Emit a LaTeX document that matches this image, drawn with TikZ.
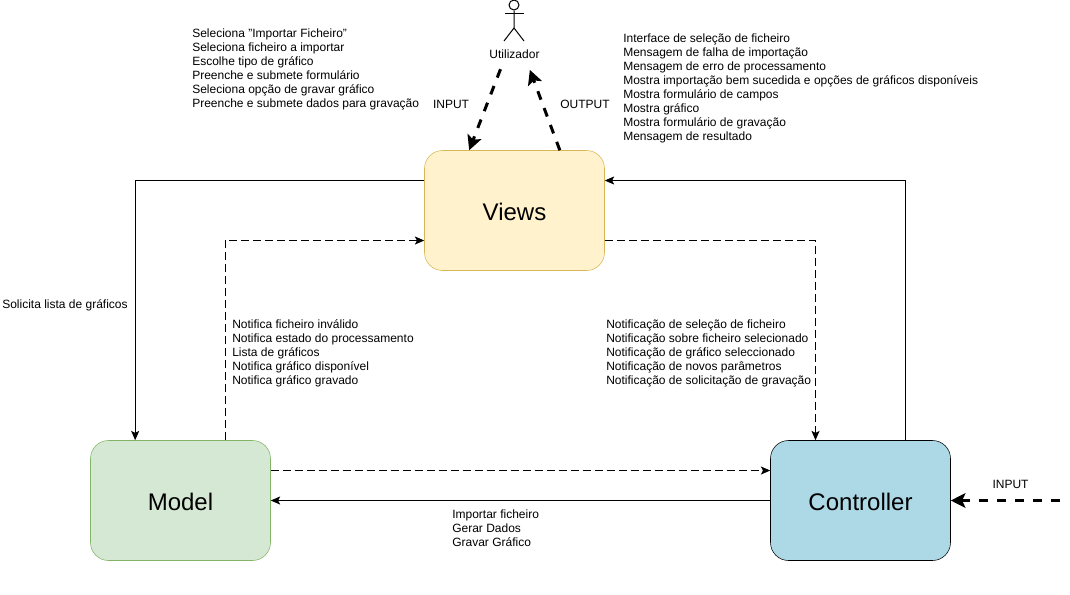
\documentclass[tikz,border=0pt]{standalone}
\usepackage{fontspec}
\setmainfont{Liberation Sans}
\usetikzlibrary{arrows.meta, positioning, calc}
\definecolor{viewsfill}{HTML}{FFF2CC}
\definecolor{viewsline}{HTML}{D6B656}
\definecolor{modelfill}{HTML}{D5E8D4}
\definecolor{modelline}{HTML}{82B366}
\definecolor{ctrlfill}{HTML}{ADD8E6}
\tikzset{
  block/.style={draw, rounded corners=13.5pt, minimum width=135pt, minimum height=90pt, inner sep=0pt, text height=15.5pt, text depth=0pt, font=\fontsize{18}{20}\selectfont},
  note/.style={align=left, anchor=west, inner sep=0pt, font=\fontsize{9}{10.5}\selectfont},
  flow/.style={line width=0.75pt, -{Stealth[length=7pt,width=6pt,inset=1.5pt]}},
  weak/.style={flow, dash pattern=on 6pt off 3pt},
  user flow/.style={line width=2.25pt, dash pattern=on 6.75pt off 6.75pt, -{Stealth[length=11pt,width=11pt,inset=2.5pt]}},
}
\begin{document}
\begin{tikzpicture}[x=0.75pt, y=-0.75pt]
        \useasboundingbox (0, 0) rectangle (1070, 594);

        \node[block, fill=viewsfill, draw=viewsline] (views) at (514.5, 210.5) {Views};
        \node[block, fill=modelfill, draw=modelline] (model) at (180.5, 500.5) {Model};
        \node[block, fill=ctrlfill, draw=black] (controller) at (860.5, 500.5) {Controller};

        \node[circle, draw, line width=0.75pt, inner sep=0pt, minimum size=7.5pt] (head) at (514, 5) {};
        \coordinate (hip) at (514, 28);
        \draw[line width=0.75pt] (head.south) -- (hip) -- (504, 41);
        \draw[line width=0.75pt] (hip) -- (524, 41);
        \draw[line width=0.75pt] (505, 13) -- (524, 13);
        \node[note, anchor=center] (user) at (514.5, 54.5) {Utilizador};

        \coordinate (outside) at (1060, 500.5);

        \draw[flow] ([yshift=22.5pt]views.west) -| ([xshift=-34pt]model.north);
        \draw[weak] ([xshift=33.5pt]model.north) |- ([yshift=-22.5pt]views.west);
        \draw[weak] ([yshift=-22.5pt]views.east) -| ([xshift=-33.75pt]controller.north);
        \draw[flow] ([xshift=33.75pt]controller.north) |- ([yshift=22.5pt]views.east);
        \draw[weak] ([yshift=22.5pt]model.east) -- ([yshift=22.5pt]controller.west);
        \draw[flow] (controller.west) -- (model.east);
        \draw[user flow] (outside) -- (controller.east);
        \draw[user flow] ([shift={(-10.5pt,-7.5pt)}]user.south) -- ([xshift=-34pt]views.north);
        \draw[user flow] ([xshift=34pt]views.north) -- ([shift={(11.5pt,-8pt)}]user.south);

        \node[note] (inputs) at (192, 69) {Seleciona "Importar Ficheiro"\\Seleciona ficheiro a importar\\Escolhe tipo de gráfico\\Preenche e submete formulário\\Seleciona opção de gravar gráfico\\Preenche e submete dados para gravação};
        \node[note] (outputs) at (623, 88) {Interface de seleção de ficheiro\\Mensagem de falha de importação\\Mensagem de erro de processamento\\Mostra importação bem sucedida e opções de gráficos disponíveis\\Mostra formulário de campos\\Mostra gráfico\\Mostra formulário de gravação\\Mensagem de resultado};
        \node[note, anchor=center] (inputlabel) at (451, 104.5) {INPUT};
        \node[note, anchor=center] (outputlabel) at (585, 104.5) {OUTPUT};
        \node[note] (request) at (2, 305) {Solicita lista de gráficos};
        \node[note] (modelnotes) at (232, 353) {Notifica ficheiro inválido\\Notifica estado do processamento\\Lista de gráficos\\Notifica gráfico disponível\\Notifica gráfico gravado};
        \node[note] (viewnotes) at (606, 353) {Notificação de seleção de ficheiro\\Notificação sobre ficheiro selecionado\\Notificação de gráfico seleccionado\\Notificação de novos parâmetros\\Notificação de solicitação de gravação};
        \node[note] (commands) at (452, 528.5) {Importar ficheiro\\Gerar Dados\\Gravar Gráfico};
        \node[note, anchor=center] (sideinput) at (1010.5, 484.5) {INPUT};
\end{tikzpicture}
\end{document}
